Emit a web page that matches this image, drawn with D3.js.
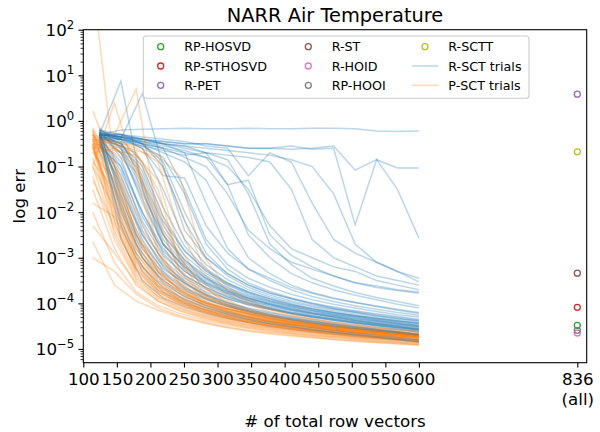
<!DOCTYPE html>
<html><head><meta charset="utf-8">
<script src="https://cdn.jsdelivr.net/npm/d3@7"></script>
<style>body{margin:0;background:#fff}svg{display:block}text{font-family:"DejaVu Sans",sans-serif;fill:#000}</style>
</head><body><svg id="c" width="600" height="432"></svg>
<script>
// ---------- data ----------
const chartTitle = "NARR Air Temperature";
const xTickValues = [100,150,200,250,300,350,400,450,500,550,600,836];
const xTickLabels = ["100","150","200","250","300","350","400","450","500","550","600","836\n(all)"];
const yTickExponents = [-5,-4,-3,-2,-1,0,1,2];

const methodNames  = ["RP-HOSVD","RP-STHOSVD","R-PET","R-ST","R-HOID","RP-HOOI","R-SCTT"];
const methodColors = ["#2ca02c","#d62728","#9467bd","#8c564b","#e377c2","#7f7f7f","#bcbd22"];
const methodX = 836;
const methodErr = [3.3e-5, 8.2e-5, 3.85, 4.6e-4, 2.24e-5, 2.56e-5, 0.21];

const trialNames = ["R-SCT trials","P-SCT trials"];
const trialColors = ["#1f77b4","#ff7f0e"];

// x positions of the trial points
const rsctX = [124,156,188,219,251,283,315,346,378,410,441,473,505,537,568,600];
const psctX = [114,146.4,178.8,211.2,243.6,276,308.4,340.8,373.2,405.6,438,470.4,502.8,535.2,567.6,600];

// log10(err) per trial
const rsctLog10Err = [
[-0.3,-0.2,-0.18,-0.17,-0.16,-0.17,-0.17,-0.16,-0.17,-0.17,-0.16,-0.16,-0.17,-0.22,-0.23,-0.22],
[-0.3,-0.35,-0.4,-0.45,-0.5,-0.5,-0.55,-0.6,-0.6,-0.62,-0.6,-0.55,-1.08,-0.85,-1.03,-1.03],
[-0.3,-2.0,-3.0,-3.5,-3.8,-4.0,-4.12,-4.22,-4.3,-4.38,-4.45,-4.5,-4.55,-4.6,-4.65,-4.7],
[-0.25,-1.6,-2.7,-3.25,-3.55,-3.8,-3.98,-4.1,-4.2,-4.28,-4.35,-4.42,-4.48,-4.53,-4.58,-4.63],
[-0.35,-2.3,-3.3,-3.75,-4.0,-4.15,-4.27,-4.37,-4.45,-4.52,-4.58,-4.63,-4.68,-4.73,-4.78,-4.83],
[-0.45,-1.2,-2.4,-3.05,-3.45,-3.7,-3.9,-4.03,-4.13,-4.22,-4.3,-4.37,-4.43,-4.48,-4.53,-4.58],
[-0.2,-0.8,-2.1,-2.85,-3.3,-3.58,-3.78,-3.93,-4.05,-4.15,-4.23,-4.3,-4.37,-4.43,-4.48,-4.53],
[-0.5,-1.8,-2.9,-3.45,-3.72,-3.92,-4.06,-4.18,-4.27,-4.35,-4.42,-4.48,-4.54,-4.59,-4.64,-4.69],
[-0.3,-1.0,-2.3,-3.1,-3.55,-3.83,-4.02,-4.15,-4.25,-4.33,-4.4,-4.47,-4.52,-4.58,-4.62,-4.67],
[-0.15,-0.6,-1.5,-2.6,-3.15,-3.48,-3.72,-3.88,-4.0,-4.1,-4.2,-4.27,-4.34,-4.4,-4.46,-4.52],
[-0.45,-1.4,-2.6,-3.3,-3.65,-3.88,-4.03,-4.15,-4.25,-4.33,-4.4,-4.46,-4.52,-4.57,-4.62,-4.68],
[-0.3,-0.5,-1.2,-2.3,-2.95,-3.35,-3.6,-3.8,-3.95,-4.05,-4.15,-4.23,-4.3,-4.36,-4.42,-4.48],
[-0.25,-2.6,-3.5,-3.88,-4.08,-4.22,-4.33,-4.42,-4.5,-4.57,-4.62,-4.67,-4.72,-4.76,-4.8,-4.85],
[-0.4,-0.9,-2.0,-2.9,-3.4,-3.65,-3.85,-4.0,-4.1,-4.2,-4.27,-4.34,-4.4,-4.45,-4.5,-4.56],
[-0.3,-1.5,-2.5,-3.15,-3.5,-3.75,-3.9,-4.03,-4.13,-4.22,-4.3,-4.36,-4.42,-4.48,-4.53,-4.58],
[-0.35,-0.7,-1.6,-2.5,-3.05,-3.4,-3.65,-3.83,-3.96,-4.07,-4.16,-4.24,-4.3,-4.37,-4.43,-4.49],
[-0.2,-0.4,-0.9,-1.9,-2.75,-3.25,-3.55,-3.75,-3.9,-4.02,-4.12,-4.2,-4.27,-4.33,-4.39,-4.44],
[-0.3,-0.5,-1.0,-2.1,-2.85,-3.3,-3.58,-3.77,-3.93,-4.04,-4.13,-4.2,-4.27,-4.33,-4.38,-4.43],
[-0.3,0.87,-1.5,-2.7,-3.25,-3.55,-3.75,-3.9,-4.02,-4.12,-4.2,-4.27,-4.34,-4.4,-4.45,-4.5],
[-0.4,-0.4,0.6,-1.0,-2.4,-3.0,-3.35,-3.6,-3.77,-3.9,-4.0,-4.1,-4.18,-4.25,-4.31,-4.37],
[-0.3,-0.35,-0.45,-0.6,-1.5,-2.6,-3.15,-3.45,-3.65,-3.8,-3.92,-4.02,-4.1,-4.18,-4.25,-4.3],
[-0.2,-0.3,-0.4,-0.5,-0.7,-1.8,-2.8,-3.25,-3.5,-3.7,-3.85,-3.96,-4.05,-4.13,-4.2,-4.26],
[-0.35,-0.4,-0.45,-0.55,-0.65,-0.8,-1.4,-2.5,-3.0,-3.35,-3.55,-3.7,-3.82,-3.92,-4.02,-4.1],
[-0.3,-0.4,-0.5,-0.9,-2.0,-2.9,-3.35,-3.6,-3.78,-3.9,-4.02,-4.12,-4.2,-4.28,-4.34,-4.4],
[-0.25,-0.35,-0.5,-0.7,-0.9,-1.3,-2.2,-3.0,-3.35,-3.6,-3.76,-3.88,-3.98,-4.07,-4.15,-4.22],
[-0.4,-0.45,-0.55,-0.65,-0.75,-0.7,-0.85,-1.6,-2.7,-3.15,-3.45,-3.62,-3.76,-3.87,-3.96,-4.05],
[-0.3,-0.32,-0.4,-0.5,-0.55,-0.7,-1.4,-1.3,-2.5,-2.95,-3.2,-3.4,-3.55,-3.65,-3.72,-3.78],
[-0.3,-0.4,-0.6,-1.2,-1.25,-2.3,-2.9,-3.25,-3.45,-3.65,-3.78,-3.9,-3.98,-4.06,-4.13,-4.2],
[-0.3,-0.35,-0.4,-0.45,-0.5,-0.5,-0.55,-0.6,-0.6,-0.55,-0.62,-0.6,-2.28,-0.85,-1.5,-2.57],
[-0.3,-0.3,-0.35,-0.4,-0.45,-0.55,-0.6,-1.2,-0.7,-0.9,-1.8,-2.6,-2.9,-3.1,-3.3,-3.53],
[-0.35,-0.4,-0.5,-0.6,-0.7,-0.8,-1.0,-1.5,-2.3,-2.8,-3.0,-3.2,-3.3,-3.5,-3.6,-3.7],
[-0.3,-0.3,-0.4,-0.5,-0.6,-0.7,-0.75,-0.8,-0.9,-1.5,-2.6,-3.0,-3.2,-3.4,-3.5,-3.6],
[-0.28,-0.35,-0.45,-0.5,-0.55,-0.6,-0.65,-0.7,-0.75,-0.85,-1.0,-1.6,-2.7,-3.1,-3.3,-3.45],
[-0.3,-1.1,-2.2,-2.95,-3.38,-3.66,-3.86,-4.0,-4.12,-4.22,-4.3,-4.37,-4.44,-4.5,-4.56,-4.62],
[-0.2,-0.45,-1.3,-2.4,-3.05,-3.45,-3.7,-3.88,-4.02,-4.13,-4.22,-4.3,-4.37,-4.44,-4.5,-4.57],
[-0.35,-1.9,-3.0,-3.55,-3.85,-4.05,-4.2,-4.3,-4.4,-4.47,-4.53,-4.6,-4.65,-4.7,-4.75,-4.8],
[-0.3,-0.6,-1.8,-2.7,-3.2,-3.52,-3.74,-3.9,-4.03,-4.14,-4.23,-4.3,-4.37,-4.43,-4.49,-4.55],
[-0.4,-2.2,-3.2,-3.65,-3.92,-4.1,-4.24,-4.35,-4.44,-4.51,-4.58,-4.64,-4.69,-4.74,-4.79,-4.84],
[-0.25,-0.7,-1.7,-2.7,-3.2,-3.55,-3.78,-3.94,-4.07,-4.17,-4.26,-4.33,-4.4,-4.46,-4.52,-4.58],
[-0.3,-0.35,-0.6,-1.5,-2.6,-3.15,-3.48,-3.7,-3.86,-3.98,-4.08,-4.16,-4.24,-4.31,-4.37,-4.43],
[-0.3,-1.3,-2.5,-3.2,-3.58,-3.82,-3.99,-4.12,-4.22,-4.31,-4.38,-4.45,-4.51,-4.57,-4.62,-4.68],
[-0.35,-0.5,-1.1,-2.2,-2.85,-3.28,-3.56,-3.75,-3.9,-4.02,-4.12,-4.2,-4.27,-4.34,-4.4,-4.46],
[-0.3,-0.4,-0.55,-0.8,-1.6,-2.7,-3.25,-3.55,-3.74,-3.88,-3.99,-4.08,-4.16,-4.23,-4.29,-4.35],
[-0.3,-0.35,-0.5,-0.6,-0.8,-1.0,-1.6,-2.4,-2.8,-3.1,-3.25,-3.4,-3.55,-3.62,-3.7,-3.75],
[-0.55,-1.0,-2.0,-2.8,-3.3,-3.6,-3.82,-3.97,-4.1,-4.2,-4.28,-4.35,-4.42,-4.48,-4.54,-4.6],
[-0.2,-1.7,-2.8,-3.35,-3.68,-3.9,-4.06,-4.18,-4.28,-4.36,-4.43,-4.5,-4.55,-4.6,-4.65,-4.7],
[-0.35,-0.55,-1.4,-2.5,-3.1,-3.45,-3.68,-3.85,-3.98,-4.08,-4.17,-4.25,-4.32,-4.38,-4.44,-4.5],
[-0.25,-0.3,-0.5,-1.0,-2.2,-3.0,-3.4,-3.65,-3.82,-3.95,-4.05,-4.13,-4.2,-4.27,-4.33,-4.38]
];

const psctLog10Err = [
[-0.3,-1.5,-2.9,-3.5,-3.85,-4.05,-4.2,-4.3,-4.4,-4.47,-4.53,-4.58,-4.63,-4.67,-4.71,-4.75],
[-0.5,-2.0,-3.2,-3.7,-3.95,-4.15,-4.28,-4.38,-4.46,-4.52,-4.58,-4.63,-4.67,-4.71,-4.75,-4.79],
[-0.2,-1.2,-2.6,-3.3,-3.7,-3.95,-4.1,-4.22,-4.32,-4.4,-4.46,-4.52,-4.57,-4.62,-4.66,-4.7],
[-1.0,-2.4,-3.4,-3.85,-4.1,-4.25,-4.37,-4.46,-4.53,-4.59,-4.64,-4.69,-4.73,-4.77,-4.8,-4.84],
[-0.6,-1.8,-3.0,-3.6,-3.9,-4.1,-4.23,-4.33,-4.42,-4.49,-4.55,-4.6,-4.64,-4.68,-4.72,-4.76],
[-2.65,-3.6,-3.95,-4.15,-4.3,-4.42,-4.52,-4.6,-4.66,-4.71,-4.75,-4.79,-4.83,-4.86,-4.89,-4.92],
[-0.4,-1.6,-2.8,-3.45,-3.8,-4.02,-4.17,-4.28,-4.37,-4.44,-4.5,-4.56,-4.61,-4.65,-4.69,-4.73],
[-1.5,-2.8,-3.6,-3.95,-4.15,-4.3,-4.41,-4.5,-4.57,-4.63,-4.68,-4.72,-4.76,-4.8,-4.83,-4.87],
[-0.3,-1.1,-2.4,-3.2,-3.65,-3.92,-4.1,-4.22,-4.32,-4.4,-4.47,-4.53,-4.58,-4.63,-4.67,-4.71],
[-0.8,-2.2,-3.3,-3.75,-4.0,-4.18,-4.31,-4.41,-4.49,-4.55,-4.61,-4.66,-4.7,-4.74,-4.78,-4.82],
[-0.25,-1.4,-2.7,-3.4,-3.75,-4.0,-4.15,-4.27,-4.36,-4.43,-4.5,-4.55,-4.6,-4.64,-4.68,-4.72],
[-2.0,-3.1,-3.75,-4.05,-4.22,-4.36,-4.46,-4.54,-4.61,-4.66,-4.71,-4.75,-4.79,-4.83,-4.86,-4.9],
[-0.45,-1.9,-3.1,-3.65,-3.93,-4.12,-4.26,-4.36,-4.44,-4.51,-4.57,-4.62,-4.66,-4.7,-4.74,-4.78],
[-0.7,-1.3,-2.5,-3.25,-3.7,-3.97,-4.13,-4.25,-4.34,-4.42,-4.48,-4.54,-4.59,-4.64,-4.68,-4.72],
[-0.35,-2.2,-3.35,-3.8,-4.03,-4.2,-4.33,-4.42,-4.5,-4.56,-4.62,-4.67,-4.71,-4.75,-4.78,-4.82],
[-1.2,-2.6,-3.5,-3.9,-4.12,-4.27,-4.39,-4.48,-4.55,-4.61,-4.66,-4.71,-4.75,-4.78,-4.82,-4.86],
[-0.15,-1.0,-2.2,-3.05,-3.55,-3.85,-4.05,-4.18,-4.28,-4.36,-4.43,-4.49,-4.54,-4.59,-4.64,-4.68],
[-0.6,-1.7,-2.9,-3.55,-3.88,-4.08,-4.22,-4.33,-4.41,-4.48,-4.54,-4.59,-4.64,-4.68,-4.72,-4.76],
[-3.0,-3.3,-3.8,-4.1,-4.27,-4.4,-4.5,-4.58,-4.64,-4.69,-4.74,-4.78,-4.82,-4.85,-4.88,-4.91],
[-0.9,-1.5,-2.7,-3.4,-3.78,-4.02,-4.18,-4.3,-4.39,-4.46,-4.52,-4.58,-4.63,-4.67,-4.71,-4.75],
[-0.5,-2.5,-3.45,-3.85,-4.07,-4.23,-4.35,-4.45,-4.52,-4.58,-4.64,-4.68,-4.73,-4.77,-4.8,-4.84],
[-1.8,-2.1,-3.0,-3.6,-3.92,-4.12,-4.27,-4.38,-4.46,-4.53,-4.59,-4.64,-4.68,-4.72,-4.76,-4.8],
[-0.3,-0.9,-2.0,-2.9,-3.45,-3.8,-4.0,-4.15,-4.26,-4.35,-4.42,-4.48,-4.54,-4.59,-4.63,-4.68],
[-1.3,-2.3,-3.25,-3.72,-3.98,-4.16,-4.29,-4.4,-4.48,-4.55,-4.6,-4.65,-4.7,-4.74,-4.77,-4.81],
[-0.4,-1.3,-2.8,-3.5,-3.85,-4.06,-4.2,-4.31,-4.4,-4.47,-4.53,-4.58,-4.63,-4.67,-4.71,-4.75],
[-2.3,-2.9,-3.55,-3.95,-4.17,-4.32,-4.43,-4.52,-4.59,-4.65,-4.7,-4.74,-4.78,-4.82,-4.85,-4.88],
[-0.2,-1.7,-3.05,-3.62,-3.92,-4.11,-4.25,-4.35,-4.43,-4.5,-4.56,-4.61,-4.66,-4.7,-4.73,-4.77],
[-1.0,-1.9,-3.15,-3.7,-3.97,-4.15,-4.28,-4.39,-4.47,-4.53,-4.59,-4.64,-4.69,-4.73,-4.76,-4.8],
[0.22,-1.0,-2.5,-3.3,-3.72,-3.98,-4.14,-4.26,-4.35,-4.43,-4.49,-4.55,-4.6,-4.65,-4.69,-4.73],
[-0.55,-2.1,-3.25,-3.75,-4.0,-4.17,-4.3,-4.4,-4.48,-4.54,-4.6,-4.65,-4.7,-4.74,-4.78,-4.81],
[-0.4,-0.5,-0.7,-1.8,-3.0,-3.6,-3.95,-4.15,-4.28,-4.37,-4.45,-4.51,-4.56,-4.61,-4.65,-4.69],
[-0.5,-0.55,-0.8,-2.5,-3.4,-3.85,-4.08,-4.23,-4.34,-4.42,-4.49,-4.55,-4.6,-4.64,-4.68,-4.72],
[-0.3,-0.45,-0.6,-0.9,-2.4,-3.3,-3.75,-4.0,-4.16,-4.28,-4.37,-4.44,-4.5,-4.55,-4.6,-4.64],
[-0.6,-0.65,-0.75,-1.3,-2.8,-3.5,-3.88,-4.1,-4.24,-4.34,-4.42,-4.48,-4.54,-4.59,-4.63,-4.67],
[-0.35,-0.5,-0.65,-0.8,-1.9,-3.1,-3.65,-3.95,-4.12,-4.25,-4.34,-4.42,-4.48,-4.54,-4.58,-4.62],
[-0.7,-0.6,-1.0,-2.2,-3.25,-3.75,-4.02,-4.2,-4.31,-4.4,-4.47,-4.53,-4.58,-4.63,-4.67,-4.71],
[-0.45,-0.5,-0.7,-1.5,-3.1,-3.7,-4.0,-4.18,-4.3,-4.39,-4.46,-4.52,-4.57,-4.62,-4.66,-4.7],
[-0.4,-0.45,-0.55,-0.75,-1.2,-2.9,-3.55,-3.9,-4.1,-4.22,-4.32,-4.4,-4.46,-4.52,-4.57,-4.61],
[-0.55,-0.7,-1.1,-2.0,-3.0,-3.6,-3.92,-4.12,-4.25,-4.35,-4.43,-4.5,-4.55,-4.6,-4.64,-4.68],
[-0.5,-0.6,-0.9,-2.8,-3.55,-3.92,-4.13,-4.27,-4.37,-4.45,-4.51,-4.57,-4.62,-4.66,-4.7,-4.74],
[3.0,-1.0,-2.5,-3.3,-3.7,-3.95,-4.1,-4.22,-4.32,-4.4,-4.46,-4.52,-4.57,-4.62,-4.66,-4.7],
[-0.6,-0.3,0.7,-2.2,-3.3,-3.8,-4.05,-4.2,-4.31,-4.4,-4.47,-4.53,-4.58,-4.62,-4.66,-4.7],
[-1.0,0.4,-1.2,-2.9,-3.6,-3.95,-4.15,-4.28,-4.38,-4.45,-4.51,-4.57,-4.62,-4.66,-4.7,-4.74]
];

// ---------- layout ----------
const m = {left: 83.3, right: 586.7, top: 29.7, bottom: 362.7};
const svg = d3.select("#c");
const x = d3.scaleLinear().domain([100, 850]).range([m.left, m.right]);
const y = d3.scaleLog().domain([5e-6, 100]).range([m.bottom, m.top]);

svg.append("defs").append("clipPath").attr("id","plotclip").append("rect")
  .attr("x", m.left).attr("y", m.top).attr("width", m.right-m.left).attr("height", m.bottom-m.top);

const plot = svg.append("g").attr("clip-path","url(#plotclip)");
const line = d3.line().x(d => x(d[0])).y(d => y(d[1]));
const nT = Math.max(rsctLog10Err.length, psctLog10Err.length);
const trialOpacity = 0.3;
for (let i = 0; i < nT; i++) {
  if (i < rsctLog10Err.length) {
    plot.append("path").attr("d", line(rsctX.map((xv,j)=>[xv, Math.pow(10, rsctLog10Err[i][j])])))
      .attr("fill","none").attr("stroke",trialColors[0]).attr("stroke-opacity",trialOpacity).attr("stroke-width",1.5);
  }
  if (i < psctLog10Err.length) {
    plot.append("path").attr("d", line(psctX.map((xv,j)=>[xv, Math.pow(10, psctLog10Err[i][j])])))
      .attr("fill","none").attr("stroke",trialColors[1]).attr("stroke-opacity",trialOpacity).attr("stroke-width",1.5);
  }
}
plot.selectAll("circle.m").data(methodErr).enter().append("circle")
  .attr("cx", x(methodX)).attr("cy", d => y(d)).attr("r", 3)
  .attr("fill","none").attr("stroke",(d,i)=>methodColors[i]).attr("stroke-width",1.3);

// ---------- axes ----------
const tickLen = 4.86, fs = 16.7;
const xAxis = d3.axisBottom(x).tickValues(xTickValues).tickSize(tickLen).tickFormat("");
const gx = svg.append("g").attr("transform",`translate(0,${m.bottom})`).call(xAxis);
gx.select(".domain").remove();
gx.selectAll(".tick line").attr("stroke","#000").attr("stroke-width",1.1);
gx.selectAll(".tick").each(function(d,i){
  const lines = xTickLabels[i].split("\n");
  const t = d3.select(this).append("text").attr("text-anchor","middle").attr("font-size",fs).attr("fill","#000");
  lines.forEach((s,k)=>t.append("tspan").attr("x",0).attr("y", tickLen+4.86+fs*0.76 + k*fs*1.2).text(s));
});

const yAxis = d3.axisLeft(y).tickValues(yTickExponents.map(e=>Math.pow(10,e))).tickSize(tickLen).tickFormat("");
const gy = svg.append("g").attr("transform",`translate(${m.left},0)`).call(yAxis);
gy.select(".domain").remove();
gy.selectAll(".tick line").attr("stroke","#000").attr("stroke-width",1.1);
gy.selectAll(".tick").each(function(d,i){
  const e = yTickExponents[i];
  const t = d3.select(this).append("text").attr("text-anchor","end").attr("x",-tickLen-4.2).attr("y",6).attr("font-size",fs).attr("fill","#000");
  t.append("tspan").text("10");
  t.append("tspan").attr("dy",-7.5).attr("font-size",11.7).text(String(e).replace("-","\u2212"));
});
const minorVals = [];
for (let e = -6; e < 2; e++) for (let k = 2; k <= 9; k++) { const v = k*Math.pow(10,e); if (v >= 5e-6 && v <= 100) minorVals.push(v); }
const gym = svg.append("g").attr("transform",`translate(${m.left},0)`).call(d3.axisLeft(y).tickValues(minorVals).tickSize(2.78).tickFormat(""));
gym.select(".domain").remove();
gym.selectAll(".tick line").attr("stroke","#000").attr("stroke-width",0.8);

svg.append("rect").attr("x",m.left).attr("y",m.top).attr("width",m.right-m.left).attr("height",m.bottom-m.top)
  .attr("fill","none").attr("stroke","#000").attr("stroke-width",1.1);

svg.append("text").attr("x",(m.left+m.right)/2).attr("y",21.5).attr("text-anchor","middle").attr("font-size",19.4).text(chartTitle);
svg.append("text").attr("x",(m.left+m.right)/2).attr("y",427).attr("text-anchor","middle").attr("font-size",fs).text("# of total row vectors");
svg.append("text").attr("transform",`translate(25,${(m.top+m.bottom)/2}) rotate(-90)`).attr("text-anchor","middle").attr("font-size",fs).text("log err");

// ---------- legend ----------
const lg = svg.append("g");
lg.append("rect").attr("x",143.3).attr("y",36).attr("width",529-143.3).attr("height",98.3-36).attr("rx",3)
  .attr("fill","#fff").attr("fill-opacity",0.8).attr("stroke","#cccccc").attr("stroke-width",1.1);
const rowY = [46.7, 66, 85.3];
const colMarkX = [160.7, 308.3, 425];
const colTextX = [184.3, 331.7, 448.3];
const lfs = 12.7;
const entries = methodNames.map((n,i)=>({type:"m", name:n, color:methodColors[i]}))
  .concat(trialNames.map((n,i)=>({type:"l", name:n, color:trialColors[i]})));
entries.forEach((en, i) => {
  const c = Math.floor(i/3), r = i % 3;
  if (en.type === "m") {
    lg.append("circle").attr("cx",colMarkX[c]).attr("cy",rowY[r]).attr("r",3).attr("fill","none").attr("stroke",en.color).attr("stroke-width",1.3);
  } else {
    lg.append("line").attr("x1",411.7).attr("x2",438.3).attr("y1",rowY[r]).attr("y2",rowY[r]).attr("stroke",en.color).attr("stroke-opacity",0.3).attr("stroke-width",1.5);
  }
  lg.append("text").attr("x",colTextX[c]).attr("y",rowY[r]+4.6).attr("font-size",lfs).text(en.name);
});
</script></body></html>
